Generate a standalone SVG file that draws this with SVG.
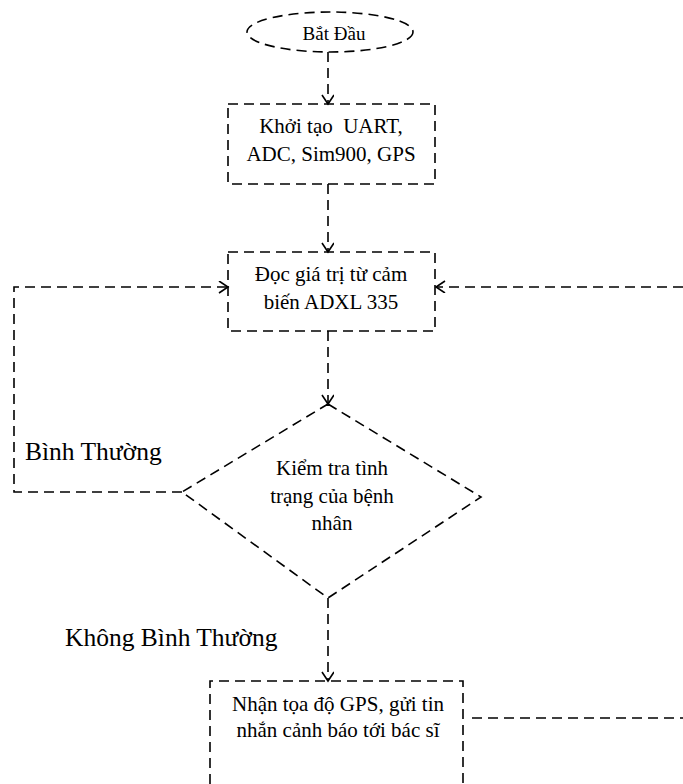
<svg xmlns="http://www.w3.org/2000/svg" width="683" height="784" viewBox="0 0 683 784">
<defs>
<style>
.s{fill:none;stroke:#000;stroke-width:1.6;stroke-dasharray:10 6}
.t{font-family:"Liberation Serif","Times New Roman",serif;font-size:21px;fill:#000;text-anchor:middle}
.l{font-family:"Liberation Serif","Times New Roman",serif;font-size:25.5px;fill:#000}
</style>
<marker id="a" markerWidth="14" markerHeight="14" refX="10" refY="6" orient="auto" markerUnits="userSpaceOnUse">
<path d="M1,0 L10,6 L1,12" fill="none" stroke="#000" stroke-width="1.6"/>
</marker>
</defs>
<rect width="683" height="784" fill="#fff"/>
<g id="connectors">
<line class="s" x1="328" y1="52" x2="328" y2="104" marker-end="url(#a)"/>
<line class="s" x1="328" y1="184" x2="328" y2="252" marker-end="url(#a)"/>
<line class="s" x1="328" y1="331" x2="328" y2="404" marker-end="url(#a)"/>
<line class="s" x1="328" y1="598" x2="328" y2="681" marker-end="url(#a)"/>
<polyline class="s" points="182,492 14,492 14,287 228,287" marker-end="url(#a)"/>
<line class="s" x1="683" y1="287" x2="436" y2="287" marker-end="url(#a)"/>
<line class="s" x1="472" y1="718" x2="683" y2="718"/>
</g>
<g id="start">
<ellipse class="s" cx="330" cy="32" rx="83" ry="20"/>
<text class="t" x="334" y="40" style="font-size:19px">Bắt Đầu</text>
</g>
<g id="init">
<rect class="s" x="228" y="104" width="207" height="80"/>
<text class="t" x="331" y="133" xml:space="preserve">Khởi tạo  UART,</text>
<text class="t" x="331" y="161">ADC, Sim900, GPS</text>
</g>
<g id="read">
<rect class="s" x="228" y="252" width="207" height="79"/>
<text class="t" x="331" y="281">Đọc giá trị từ cảm</text>
<text class="t" x="331" y="309">biến ADXL 335</text>
</g>
<g id="check">
<polygon class="s" points="328,404 481,497 328,598 182,492"/>
<text class="t" x="332" y="475">Kiểm tra tình</text>
<text class="t" x="332" y="503">trạng của bệnh</text>
<text class="t" x="332" y="530">nhân</text>
</g>
<g id="labels">
<text class="l" x="25" y="460">Bình Thường</text>
<text class="l" x="65" y="646">Không Bình Thường</text>
</g>
<g id="alert">
<polyline class="s" points="210,784 210,681 463,681 463,784"/>
<text class="t" x="338" y="711">Nhận tọa độ GPS, gửi tin</text>
<text class="t" x="338" y="737">nhắn cảnh báo tới bác sĩ</text>
</g>
</svg>
